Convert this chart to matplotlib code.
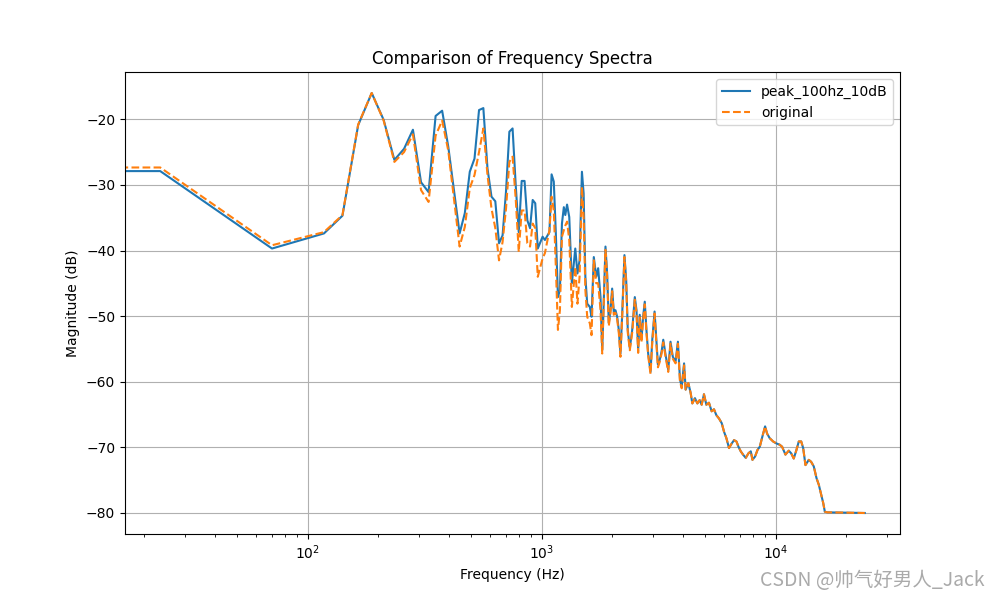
import numpy as np
import matplotlib.pyplot as plt

# low/mid band: the two spectra differ here
freq_low = [0, 23.4, 70.3, 117.2, 140.6, 164.1, 187.5, 210.9, 234.4, 257.8,
            281.3, 304.7, 328.1, 351.6, 375.0, 398.4, 445.3, 468.8, 492.2, 515.6,
            539.1, 562.5, 585.9, 609.4, 632.8, 656.3, 679.7, 703.1, 726.6, 750.0,
            773.4, 796.9, 820.3, 843.8, 867.2, 890.6, 914.1, 937.5, 960.9, 1007.8,
            1031, 1078, 1101, 1125, 1148, 1172, 1195, 1219, 1242, 1260,
            1282, 1310, 1344, 1390, 1420, 1450, 1484, 1509, 1535, 1563,
            1604, 1631, 1668, 1708, 1741, 1782, 1812, 1841, 1871, 1902,
            1933, 1965, 1998, 2030, 2064, 2099, 2133, 2168, 2206, 2255,
            2294, 2330, 2377, 2434, 2497, 2539, 2581, 2621, 2665, 2710,
            2754, 2800, 2848, 2915, 2965, 3033, 3085, 3135, 3189, 3250,
            3304, 3380, 3470, 3548, 3630, 3730, 3816, 3895, 3962, 4055]
peak_low = [-27.9, -27.9, -39.7, -37.4, -34.7, -20.9, -16.0, -20.1, -26.2, -24.5,
            -21.6, -29.6, -31.1, -19.5, -18.7, -24.2, -37.4, -34.3, -28.0, -26.0,
            -18.6, -18.3, -27.5, -31.8, -32.5, -38.9, -37.7, -31.0, -21.9, -21.4,
            -30.0, -37.2, -29.4, -29.4, -35.4, -36.6, -32.3, -32.8, -39.7, -37.9,
            -38.4, -37.2, -28.4, -29.5, -37.4, -47.1, -46.0, -35.9, -33.4, -34.6,
            -33.0, -34.9, -45.0, -39.7, -43.5, -41.5, -28.0, -31.3, -44.0, -48.1,
            -48.6, -50.1, -41.0, -44.0, -42.7, -47.1, -55.2, -47.1, -39.4, -43.5,
            -51.1, -49.1, -45.8, -49.3, -49.1, -50.1, -52.1, -55.7, -49.6, -40.7,
            -44.5, -52.1, -54.9, -52.1, -47.1, -49.1, -55.2, -49.8, -53.6, -50.1,
            -47.8, -52.1, -55.7, -58.5, -53.6, -49.3, -53.6, -57.4, -56.7, -55.4,
            -53.6, -55.9, -58.2, -53.9, -56.2, -56.9, -53.9, -59.7, -60.7, -57.2]
orig_low = [-27.35, -27.35, -39.2, -37.2, -34.6, -20.8, -16.0, -20.2, -26.5, -25.0,
            -22.3, -30.8, -32.6, -22.5, -20.2, -24.8, -39.4, -36.4, -30.5, -28.5,
            -25.0, -21.4, -28.5, -33.6, -36.6, -41.5, -38.7, -33.6, -26.5, -25.7,
            -32.1, -40.2, -33.9, -33.9, -38.9, -39.4, -35.9, -36.6, -44.0, -41.2,
            -40.4, -36.9, -31.8, -33.9, -42.5, -52.1, -49.1, -37.9, -36.9, -36.2,
            -35.6, -38.4, -48.6, -42.5, -48.1, -44.0, -30.3, -34.9, -46.0, -50.1,
            -51.1, -52.9, -41.5, -45.0, -45.0, -49.1, -55.7, -47.5, -39.9, -44.0,
            -51.5, -49.5, -46.2, -49.8, -49.5, -50.5, -52.5, -56.2, -50.0, -41.0,
            -45.0, -52.5, -55.2, -52.5, -47.5, -49.5, -55.6, -50.2, -54.0, -50.5,
            -48.2, -52.5, -56.0, -58.8, -54.0, -49.6, -54.0, -57.8, -57.0, -55.7,
            -54.0, -56.2, -58.5, -54.2, -56.5, -57.2, -54.2, -60.0, -61.0, -57.5]

# high band: both spectra lie on top of each other
freq_high = [4118, 4228, 4325, 4398, 4512, 4621, 4727, 4821, 4931, 5049,
             5180, 5320, 5443, 5572, 5718, 5872, 6006, 6150, 6310, 6481,
             6630, 6789, 6925, 7082, 7244, 7440, 7641, 7816, 7948, 8153,
             8350, 8542, 8770, 9000, 9178, 9417, 9737, 10060, 10392, 10640,
             10994, 11360, 11630, 11930, 12250, 12540, 12840, 13090, 13390, 13830,
             14160, 14530, 14930, 15270, 15630, 15950, 16200, 16590, 24000]
mag_high = [-61.2, -60.2, -61.7, -63.3, -62.5, -63.3, -62.8, -63.5, -61.9, -63.5,
            -63.2, -64.5, -64.2, -65.1, -65.6, -66.3, -67.6, -68.6, -70.1, -69.4,
            -68.9, -69.1, -69.9, -70.6, -71.1, -71.6, -70.9, -70.6, -71.9, -71.4,
            -70.4, -69.9, -68.3, -66.8, -67.9, -68.6, -69.1, -69.4, -69.6, -69.9,
            -71.1, -70.5, -70.9, -71.7, -70.4, -69.1, -69.1, -70.1, -72.7, -71.9,
            -72.2, -72.9, -74.7, -75.7, -77.2, -78.5, -79.8, -79.9, -80.0]

freqs = np.array(freq_low + freq_high)
peak_db = np.array(peak_low + mag_high)
orig_db = np.array(orig_low + mag_high)

plt.figure(figsize=(10, 6))
plt.semilogx(freqs, peak_db, label='peak_100hz_10dB')
plt.semilogx(freqs, orig_db, '--', label='original')
plt.title('Comparison of Frequency Spectra')
plt.xlabel('Frequency (Hz)')
plt.ylabel('Magnitude (dB)')
plt.legend()
plt.grid(True)
plt.figtext(0.985, 0.015, 'CSDN @帅气好男人_Jack', ha='right', va='bottom',
            fontsize=14, color='#aaaaaa',
            family=['Noto Sans CJK SC', 'DejaVu Sans'])
plt.savefig('out.png', dpi=100)
plt.close()
